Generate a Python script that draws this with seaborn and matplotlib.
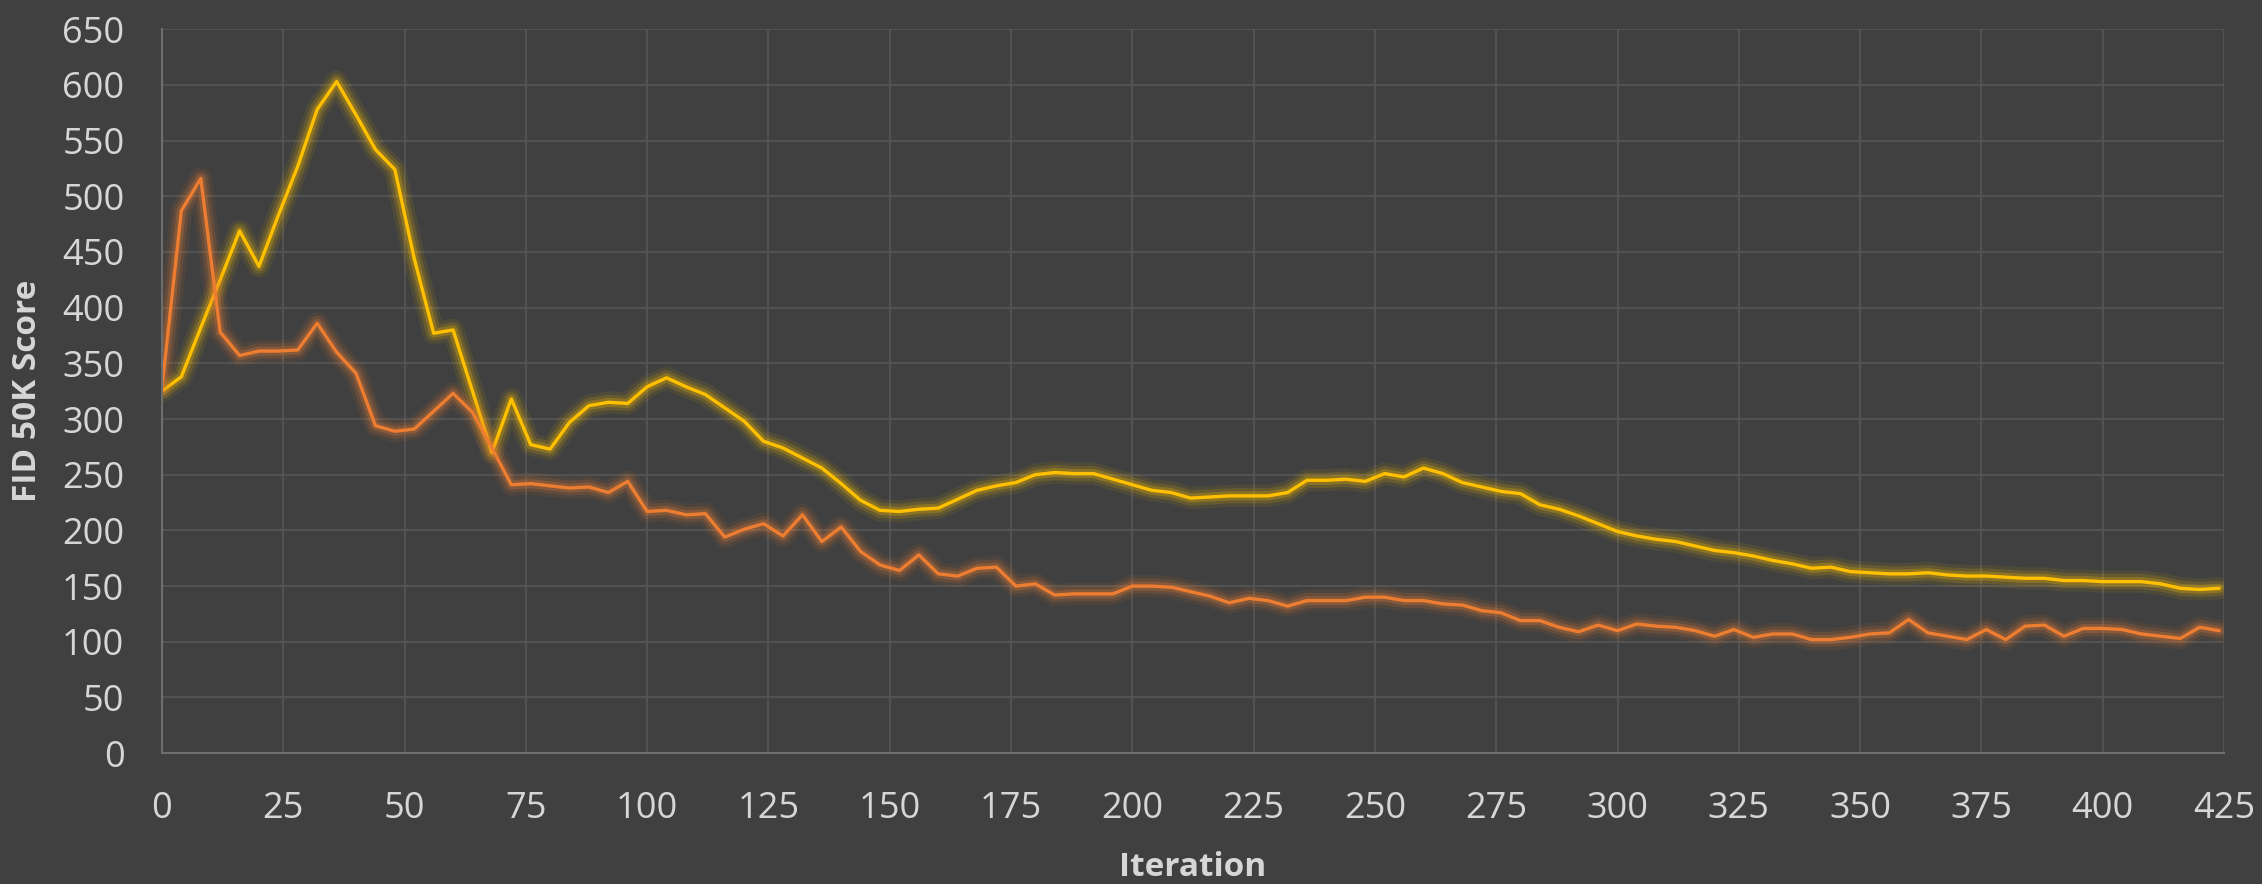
"""
FID 50K score over training iterations, two runs, dark Excel-like style with glow lines
"""
import numpy as np
import pandas as pd
import matplotlib
matplotlib.use("Agg")
import matplotlib.pyplot as plt
import matplotlib.patheffects as pe
import seaborn as sns

# ── data (one point every 4 iterations) ──
iterations = np.arange(0, 425, 4)

fid_run_yellow = [
    325, 338, 382, 425, 469, 437, 483, 527, 578, 603,
    573, 542, 524, 444, 377, 380, 325, 270, 318, 277,
    273, 297, 312, 315, 314, 329, 337, 329, 322, 310,
    298, 280, 274, 265, 256, 242, 227, 218, 217, 219,
    220, 228, 236, 240, 243, 250, 252, 251, 251, 246,
    241, 236, 234, 229, 230, 231, 231, 231, 234, 245,
    245, 246, 244, 251, 248, 256, 251, 243, 239, 235,
    233, 223, 219, 213, 206, 199, 195, 192, 190, 186,
    182, 180, 177, 173, 170, 166, 167, 163, 162, 161,
    161, 162, 160, 159, 159, 158, 157, 157, 155, 155,
    154, 154, 154, 152, 148, 147, 148,
]

fid_run_orange = [
    328, 487, 516, 378, 357, 361, 361, 362, 386, 360,
    341, 294, 289, 291, 307, 323, 306, 274, 241, 242,
    240, 238, 239, 234, 244, 217, 218, 214, 215, 194,
    201, 206, 195, 214, 190, 203, 181, 169, 164, 178,
    161, 159, 166, 167, 150, 152, 142, 143, 143, 143,
    150, 150, 149, 145, 141, 135, 139, 137, 132, 137,
    137, 137, 140, 140, 137, 137, 134, 133, 128, 126,
    119, 119, 113, 109, 115, 110, 116, 114, 113, 110,
    105, 111, 104, 107, 107, 102, 102, 104, 107, 108,
    120, 108, 105, 102, 111, 102, 114, 115, 105, 112,
    112, 111, 107, 105, 103, 113, 110,
]

run_names = ["run A", "run B"]
run_colors = {"run A": "#FFC000", "run B": "#ED7D31"}

x_ticks = list(range(0, 426, 25))
y_ticks = list(range(0, 651, 50))

df = pd.concat([
    pd.DataFrame({"Iteration": iterations, "FID": fid_run_yellow, "run": "run A"}),
    pd.DataFrame({"Iteration": iterations, "FID": fid_run_orange, "run": "run B"}),
], ignore_index=True)

# ── style ──
BG = "#404040"
sns.set_theme(style="dark", rc={
    "figure.facecolor": BG,
    "axes.facecolor": BG,
    "savefig.facecolor": BG,
})
plt.rcParams["font.family"] = ["Open Sans", "DejaVu Sans"]

fig = plt.figure(figsize=(22.62, 8.84), dpi=100)
ax = fig.add_axes([0.0716, 0.148, 0.9116, 0.819])

sns.lineplot(
    data=df, x="Iteration", y="FID", hue="run",
    hue_order=run_names, palette=run_colors,
    linewidth=2.4, legend=False, ax=ax,
)

# glow around each line (Excel "glow" effect)
for line in ax.lines:
    c = line.get_color()
    line.set_path_effects([
        pe.Stroke(linewidth=16, foreground=c, alpha=0.08),
        pe.Stroke(linewidth=11, foreground=c, alpha=0.14),
        pe.Stroke(linewidth=6.5, foreground=c, alpha=0.25),
        pe.Normal(),
    ])

ax.set_xlim(0, 425)
ax.set_ylim(0, 650)
ax.set_xticks(x_ticks)
ax.set_yticks(y_ticks)
ax.grid(True, color="#555555", linewidth=1.3)
ax.set_axisbelow(True)

for side in ["top", "right"]:
    ax.spines[side].set_visible(False)
for side in ["left", "bottom"]:
    ax.spines[side].set_visible(True)
    ax.spines[side].set_color("#6e6e6e")
    ax.spines[side].set_linewidth(1.5)

ax.tick_params(axis="both", length=0, pad=27, labelsize=26, labelcolor="#d6d6d6")

ax.set_xlabel("Iteration", fontsize=24, fontweight="bold", color="#d6d6d6")
ax.set_ylabel("FID 50K Score", fontsize=24, fontweight="bold", color="#d6d6d6")
ax.xaxis.set_label_coords(0.5, -0.135)
ax.yaxis.set_label_coords(-0.057, 0.5)

fig.savefig("out.png", dpi=100, facecolor=BG)
plt.close(fig)
